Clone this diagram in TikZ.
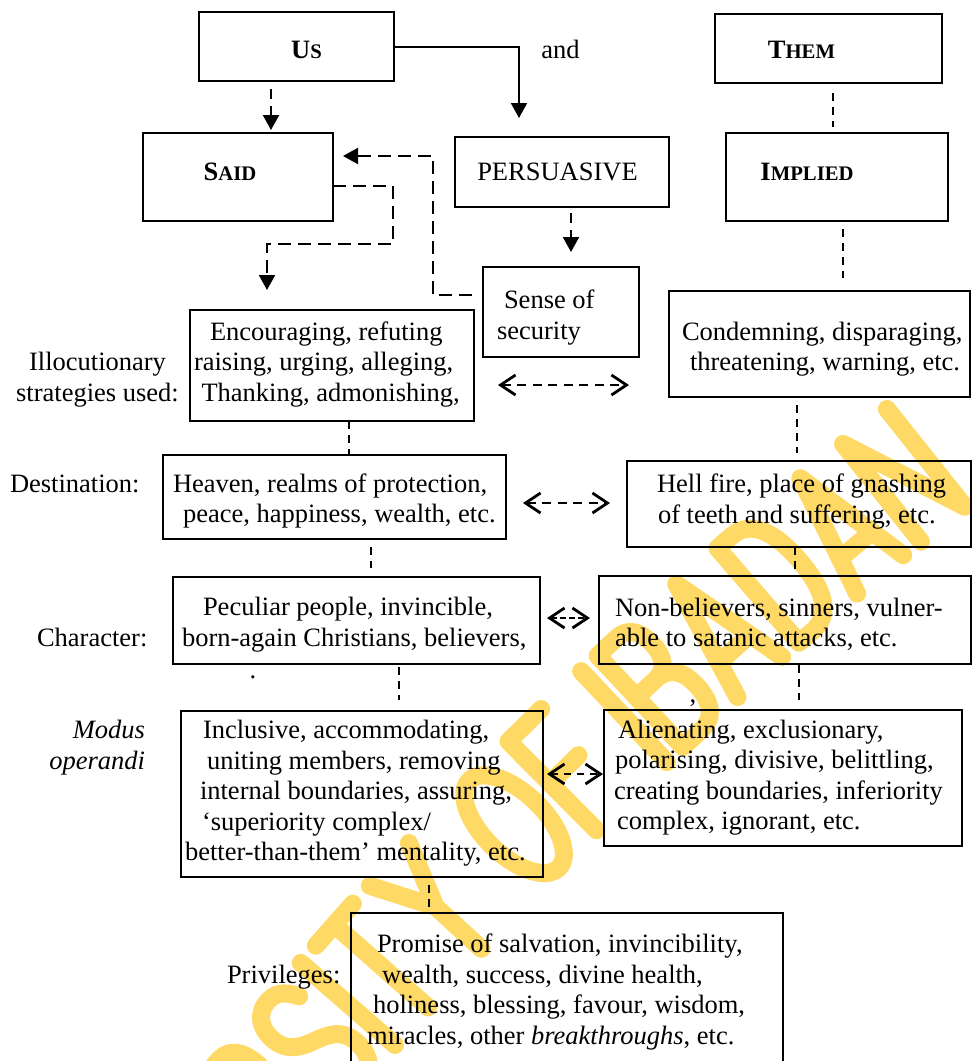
\documentclass[tikz,border=0pt]{standalone}
\usepackage{fontspec}
\setmainfont{Liberation Serif}
\usetikzlibrary{arrows.meta,calc}
\definecolor{wmyellow}{RGB}{255,217,102}
% bold small capitals: first letter full size, the rest reduced
\newcommand{\bsc}[2]{\textbf{#1{\fontsize{20.7pt}{20pt}\selectfont #2}}}
% one stroke letter of the watermark; #1 = distance along a gently bowed baseline
\newcommand{\wmat}[2]{%
  \pgfmathsetmacro{\wmh}{0.0947*(#1)*(1-(#1)/760)}%
  \pgfmathsetmacro{\wmr}{43.5+atan(0.0947*(1-2*(#1)/760))}%
  \begin{scope}[shift={({395+0.7252*(#1)-0.6885*\wmh},{1045-0.6885*(#1)-0.7252*\wmh})}, rotate=\wmr, x=1pt, y=1pt]
    \draw[wm] #2;
  \end{scope}}

\begin{document}
\begin{tikzpicture}[x=1pt,y=-1pt,
  every node/.style={inner sep=0pt, outer sep=0pt, font=\fontsize{26.5pt}{30.5pt}\selectfont},
  box/.style={draw, line width=2pt, rectangle},
  txt/.style={align=left, anchor=base west},
  ctxt/.style={anchor=base},
  wm/.style={draw=wmyellow, line width=18pt, line cap=round, line join=round},
  tri/.style={-{Triangle[length=15pt,width=16pt]}},
  solidlink/.style={line width=2pt},
  dashlink/.style={line width=2.2pt, dash pattern=on 10pt off 7pt},
  sdash/.style={line width=2pt, dash pattern=on 13pt off 7pt},
  vlink/.style={line width=1.7pt, dash pattern=on 8pt off 6pt},
  both/.style={line width=2.8pt, dash pattern=on 9pt off 6.5pt,
    {Straight Barb[length=15pt,width=20pt]}-{Straight Barb[length=15pt,width=20pt]}}
]
\useasboundingbox (0,0) rectangle (972,1061);
\clip (0,0) rectangle (972,1061);

% watermark letters, drawn as strokes
\wmat{-152}{(0,0)--(0,125)--(28,125) .. controls (46,125) and (52,112) .. (52,94) .. controls (52,76) and (44,64) .. (26,64) -- (0,64) (26,64)--(54,0)}
\wmat{-76}{(52,104) .. controls (46,120) and (38,125) .. (27,125) .. controls (12,125) and (2,114) .. (2,96) .. controls (2,78) and (14,70) .. (27,64) .. controls (42,57) and (54,50) .. (54,32) .. controls (54,12) and (42,0) .. (27,0) .. controls (12,0) and (2,8) .. (0,24)}
\wmat{0}{(0,0)--(0,125)}
\wmat{22}{(0,125)--(56,125) (28,125)--(28,0)}
\wmat{100}{(0,125)--(29,62)--(58,125) (29,62)--(29,0)}
\wmat{210}{(31,62.5) ellipse [x radius=31, y radius=62.5]}
\wmat{294}{(46,125)--(0,125)--(0,0) (0,66)--(40,66)}
\wmat{392}{(0,0)--(0,125)}
\wmat{414}{(0,0)--(0,125)--(26,125) .. controls (42,125) and (48,112) .. (48,96) .. controls (48,78) and (40,68) .. (26,68) -- (0,68) (26,68) .. controls (44,68) and (52,56) .. (52,36) .. controls (52,12) and (42,0) .. (26,0) -- (0,0)}
\wmat{488}{(0,0)--(30,125)--(60,0) (9,38)--(51,38)}
\wmat{570}{(0,0)--(0,125)--(18,125) .. controls (44,125) and (54,100) .. (54,62.5) .. controls (54,25) and (44,0) .. (18,0) -- cycle}
\wmat{646}{(0,0)--(30,125)--(60,0) (9,38)--(51,38)}
\wmat{728}{(0,0)--(0,125)--(56,0)--(56,125)}

% boxes
\node[box, minimum width=195pt, minimum height=69pt] (us) at (296.5,46.5) {};
\node[box, minimum width=227pt, minimum height=69pt] (them) at (828.5,48.5) {};
\node[box, minimum width=190pt, minimum height=88pt] (said) at (238,177) {};
\node[box, minimum width=214pt, minimum height=70pt] (pers) at (562,172) {};
\node[box, minimum width=222pt, minimum height=88pt] (impl) at (837,177) {};
\node[box, minimum width=156pt, minimum height=90pt] (sense) at (561,312) {};
\node[box, minimum width=284pt, minimum height=111pt] (enc) at (332,365.5) {};
\node[box, minimum width=301pt, minimum height=106pt] (cond) at (819.5,344) {};
\node[box, minimum width=343pt, minimum height=84pt] (heav) at (334.5,497) {};
\node[box, minimum width=344pt, minimum height=86pt] (hell) at (799,504) {};
\node[box, minimum width=367pt, minimum height=87pt] (pec) at (356.5,620.5) {};
\node[box, minimum width=372pt, minimum height=88pt] (nonb) at (785,620) {};
\node[box, minimum width=362pt, minimum height=166pt] (incl) at (362,794) {};
\node[box, minimum width=358pt, minimum height=136pt] (alien) at (783,778) {};
\node[box, minimum width=432pt, minimum height=162pt] (priv) at (567,994) {};

% box texts (multi-line texts are placed by the baseline of their last line)
\node[ctxt] (tus) at (306.5,58) {\bsc{U}{S}};
\node[ctxt] (tand) at (560.5,58) {and};
\node[ctxt] (tthem) at (801.5,58) {\bsc{T}{HEM}};
\node[ctxt] (tsaid) at (230,180) {\bsc{S}{AID}};
\node[ctxt] (tpers) at (557.5,180) {PERSUASIVE};
\node[ctxt] (timpl) at (807,180) {\bsc{I}{MPLIED}};
\node[txt] (tsense) at (497,339) {\hspace*{7pt}Sense of\\security};
\node[txt] (tenc) at (194,401) {\hspace*{16pt}Encouraging, refuting\\raising, urging, alleging,\\\hspace*{7.5pt}Thanking, admonishing,};
\node[align=center, anchor=base] (lill) at (97.5,401) {Illocutionary\\strategies used:};
\node[txt] (tcond) at (682,370.5) {Condemning, disparaging,\\\hspace*{8pt}threatening, warning, etc.};
\node[txt] (ldest) at (10,492) {Destination:};
\node[txt] (theav) at (173,522.5) {Heaven, realms of protection,\\\hspace*{10pt}peace, happiness, wealth, etc.};
\node[txt] (thell) at (657,523) {Hell fire, place of gnashing\\\hspace*{1pt}of teeth and suffering, etc.};
\node[txt] (lchar) at (37,646) {Character:};
\node[txt] (tpec) at (182,646) {\hspace*{21pt}Peculiar people, invincible,\\born-again Christians, believers,};
\node[txt] (tnonb) at (615,646.5) {Non-believers, sinners, vulner-\\able to satanic attacks, etc.};
\node[ctxt] (dot) at (253,678) {.};
\node[ctxt] (comma) at (693,702) {,};
\node[align=right, anchor=base east] (lmod) at (145,769) {\itshape Modus\\\itshape operandi};
\node[txt] (tincl) at (185,860.5) {\hspace*{18pt}Inclusive, accommodating,\\\hspace*{22pt}uniting members, removing\\\hspace*{15pt}internal boundaries, assuring,\\\hspace*{17pt}‘superiority complex/\\better-than-them’ mentality, etc.};
\node[txt] (talien) at (614,829.5) {\hspace*{4pt}Alienating, exclusionary,\\\hspace*{1pt}polarising, divisive, belittling,\\creating boundaries, inferiority\\\hspace*{3pt}complex, ignorant, etc.};
\node[txt] (lpriv) at (227,983) {Privileges:};
\node[txt] (tpriv) at (367,1044) {\hspace*{10pt}Promise of salvation, invincibility,\\\hspace*{15pt}wealth, success, divine health,\\\hspace*{6pt}holiness, blessing, favour, wisdom,\\miracles, other \textit{breakthroughs}, etc.};

% connectors in the upper part
\draw[solidlink, tri, shorten >=19pt] (us.east) -| ([xshift=-43pt]pers.north);
\draw[dashlink, tri, shorten <=8pt, shorten >=3pt] ([xshift=-25.5pt]us.south) -- ([xshift=33pt]said.north);
\draw[vlink, shorten <=10pt, shorten >=6pt] ([xshift=4.5pt]them.south) -- ([xshift=-4pt]impl.north);
\draw[dashlink, tri, shorten <=6pt, shorten >=15pt] ([xshift=9pt]pers.south) -- ([xshift=10pt]sense.north);
\draw[sdash, tri, shorten <=11pt] ([yshift=17pt]sense.west) -| ([xshift=100pt,yshift=21pt]said.east) -- ([xshift=10pt,yshift=21pt]said.east);
\draw[sdash, tri, shorten >=20pt] ([yshift=-9pt]said.east) -- ++(60,0) -- ++(0,58) -| ([xshift=-65pt]enc.north);

% vertical links between levels
\draw[vlink] ([xshift=17pt]enc.south) -- ([xshift=14.5pt]heav.north);
\draw[vlink, shorten <=8pt, shorten >=9pt] ([xshift=36.5pt]heav.south) -- ([xshift=14.5pt]pec.north);
\draw[vlink, shorten <=8pt, shorten >=13pt] ([xshift=6pt]impl.south) -- ([xshift=23.5pt]cond.north);
\draw[vlink, shorten <=8pt, shorten >=8pt] ([xshift=-22.5pt]cond.south) -- ([xshift=-2pt]hell.north);
\draw[vlink, shorten >=6pt] ([xshift=-4pt]hell.south) -- ([xshift=10pt]nonb.north);
\draw[vlink, shorten <=3pt, shorten >=11pt] ([xshift=42.5pt]pec.south) -- ([xshift=37pt]incl.north);
\draw[vlink, shorten <=1pt, shorten >=10pt] ([xshift=14pt]nonb.south) -- ([xshift=16pt]alien.north);
\draw[vlink, shorten <=8pt] ([xshift=67pt]incl.south) -- ([xshift=-138pt]priv.north);

% two-way links between the columns
\path (enc.east) ++(0,19.5) coordinate (ec);
\draw[both, shorten <=24pt, shorten >=40pt] (ec) -- (ec -| cond.west);
\path (heav.east) ++(0,6) coordinate (hc);
\draw[both, shorten <=17pt, shorten >=17pt] (hc) -- (hc -| hell.west);
\path (pec.east) ++(0,-2.5) coordinate (pc);
\draw[both, dash pattern=on 6pt off 3pt, shorten <=7pt, shorten >=9pt] (pc) -- (pc -| nonb.west);
\path (incl.east) ++(0,-20) coordinate (ic);
\draw[both, dash pattern=on 7pt off 6pt, shorten <=4pt, shorten >=1pt] (ic) -- (ic -| alien.west);
\end{tikzpicture}
\end{document}
